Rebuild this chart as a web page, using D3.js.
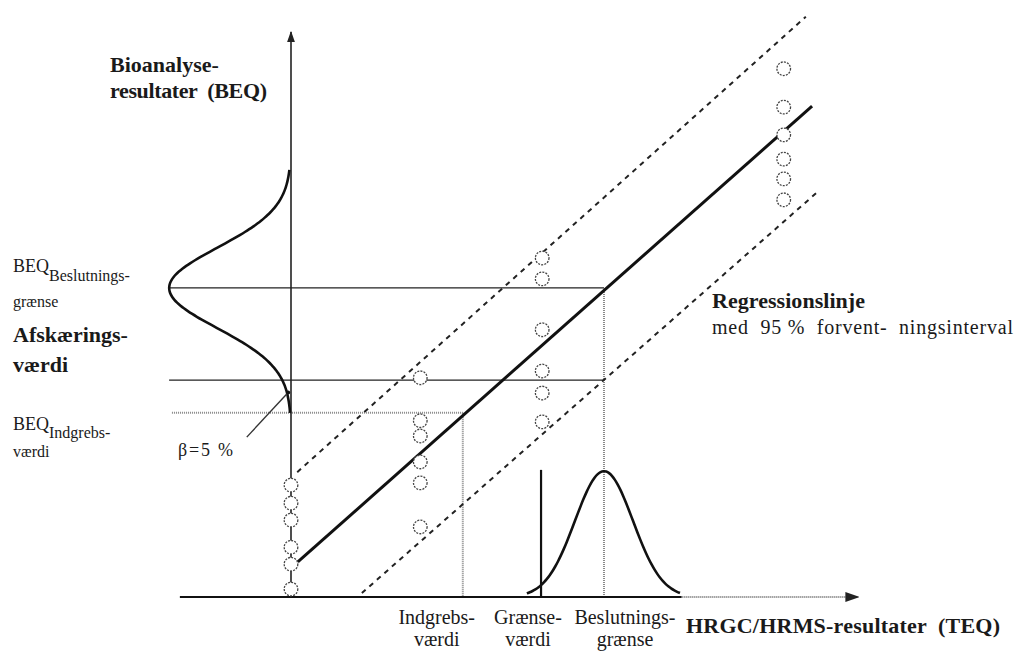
<!DOCTYPE html>
<html>
<head>
<meta charset="utf-8">
<script src="https://cdn.jsdelivr.net/npm/d3@7/dist/d3.min.js"></script>
<style>
body{margin:0;background:#fff;}
svg{display:block;font-family:"Liberation Serif","Times New Roman",serif;fill:#1a1a1a;}
text{white-space:pre;}
</style>
</head>
<body>
<svg id="chart" width="1015" height="655"></svg>
<script>
// values, in TEQ (x) and BEQ (y) units
var circleCols = [0, 2.28, 4.43, 8.69];
var circleVals = [
	[1.98, 1.66, 1.36, 0.88, 0.58, 0.14],
	[3.88, 3.12, 2.85, 2.39, 2.02, 1.24],
	[6.00, 5.63, 4.73, 4.00, 3.61, 3.10],
	[9.35, 8.67, 8.18, 7.75, 7.40, 7.03]
];
var regLine = [[0.12, 0.62], [9.19, 8.69]];
var upperBand = [[0.11, 2.21], [9.08, 10.27]];
var lowerBand = [[1.25, 0.07], [9.31, 7.19]];

// TEQ: indgrebsværdi, grænseværdi, beslutningsgrænse
var teqLevels = [3.03, 4.41, 5.52];
var teqLabels = [["Indgrebs-", "værdi"], ["Grænse-", "værdi"], ["Beslutnings-", "grænse"]];
var teqLabelX = [2.57, 4.18, 5.89];
var limitTop = 2.25;

// BEQ: indgreb, afskæring, beslutning
var beqLevels = [3.26, 3.84, 5.47];

// normal curves: [mean, sd, peak, from, to]
var beqCurve = [5.47, 0.71, 2.15, 3.26, 7.56];
var teqCurve = [5.52, 0.51, 2.23, 4.16, 6.89];
var betaPointer = [[-0.78, 2.83], [-0.05, 3.62]];

var svg = d3.select("#chart");
var x = d3.scaleLinear().domain([0, 10]).range([291, 858]);
var y = d3.scaleLinear().domain([0, 10]).range([597, 32]);

var defs = svg.append("defs");
defs.append("marker").attr("id", "arrow").attr("viewBox", "0 0 10 10")
	.attr("refX", 9).attr("refY", 5).attr("markerWidth", 7).attr("markerHeight", 7)
	.attr("orient", "auto").append("path").attr("d", "M0,1.5L10,5L0,8.5Z").attr("fill", "#222");

function seg(g, p, stroke, width, dash){
	return g.append("line")
		.attr("x1", x(p[0][0])).attr("y1", y(p[0][1]))
		.attr("x2", x(p[1][0])).attr("y2", y(p[1][1]))
		.attr("stroke", stroke).attr("stroke-width", width)
		.attr("stroke-dasharray", dash || null).attr("fill", "none");
}

var lines = svg.append("g");

// level lines from the BEQ curve to the regression line
seg(lines, [[-2.15, beqLevels[2]], [teqLevels[2], beqLevels[2]]], "#222", 1.2);
seg(lines, [[-2.15, beqLevels[1]], [teqLevels[2], beqLevels[1]]], "#222", 1.2);
seg(lines, [[-2.1, beqLevels[0]], [teqLevels[0], beqLevels[0]]], "#888", 2, "1,1");
seg(lines, [[teqLevels[0], beqLevels[0]], [teqLevels[0], 0]], "#888", 2, "1,1");
seg(lines, [[teqLevels[2], beqLevels[2]], [teqLevels[2], 0]], "#888", 2, "1,1");
seg(lines, [[teqLevels[1], limitTop], [teqLevels[1], 0]], "#111", 2.2);

// axes
seg(lines, [[0, 0], [0, 10]], "#222", 1.6).attr("marker-end", "url(#arrow)");
seg(lines, [[-1.96, 0], [teqCurve[4], 0]], "#111", 2.2);
seg(lines, [[teqCurve[4], 0], [10, 0]], "#777", 2, "1,1").attr("marker-end", "url(#arrow)");

// regression line and 95% band
seg(lines, regLine, "#111", 3);
seg(lines, upperBand, "#222", 2, "5,5");
seg(lines, lowerBand, "#222", 2, "5,5");

// normal curves
var beqPts = d3.range(beqCurve[4], beqCurve[3] - 0.001, -0.05).map(function(v){
	var d = (v - beqCurve[0]) / beqCurve[1];
	return [-beqCurve[2] * Math.exp(-d * d / 2), v];
});
var teqPts = d3.range(teqCurve[3], teqCurve[4] + 0.001, 0.05).map(function(v){
	var d = (v - teqCurve[0]) / teqCurve[1];
	return [v, teqCurve[2] * Math.exp(-d * d / 2)];
});
var curve = d3.line().x(function(d){ return x(d[0]); }).y(function(d){ return y(d[1]); }).curve(d3.curveBasis);
lines.append("path").attr("d", curve(beqPts)).attr("fill", "none").attr("stroke", "#111").attr("stroke-width", 2.6);
lines.append("path").attr("d", curve(teqPts)).attr("fill", "none").attr("stroke", "#111").attr("stroke-width", 2.6);

// beta pointer
seg(lines, betaPointer, "#333", 1.4);
lines.append("circle").attr("cx", x(betaPointer[1][0])).attr("cy", y(betaPointer[1][1])).attr("r", 2).attr("fill", "#111");

// data points
var pts = [];
circleCols.forEach(function(cx, i){
	circleVals[i].forEach(function(v){ pts.push([cx, v]); });
});
svg.append("g").selectAll("circle").data(pts).enter().append("circle")
	.attr("cx", function(d){ return x(d[0]); })
	.attr("cy", function(d){ return y(d[1]); })
	.attr("r", 6.8).attr("fill", "#fff").attr("stroke", "#444")
	.attr("stroke-width", 1.3).attr("stroke-dasharray", "2,1.2");

// texts
var txt = svg.append("g");
function label(str, tx, ty, size, bold, len){
	var t = txt.append("text").attr("x", tx).attr("y", ty).attr("font-size", size)
		.attr("font-weight", bold ? "bold" : "normal").text(str);
	if(len){ t.attr("textLength", len).attr("lengthAdjust", "spacing"); }
	return t;
}

label("Bioanalyse-", 110, 72, 22, true);
label("resultater  (BEQ)", 110, 98, 22, true, 157);

var t1 = label("BEQ", 13, y(beqLevels[2]) - 16, 18, false);
t1.append("tspan").attr("dy", 9).attr("font-size", 16).text("Beslutnings-");
label("grænse", 13, y(beqLevels[2]) + 19, 16, false);

label("Afskærings-", 13, 342, 22, true);
label("værdi", 13, 372, 22, true);

var t2 = label("BEQ", 13, y(beqLevels[0]) + 17, 18, false);
t2.append("tspan").attr("dy", 8).attr("font-size", 16).text("Indgrebs-");
label("værdi", 13, y(beqLevels[0]) + 44, 16, false);

label("β=5 %", 178, 456, 18, false, 55);

label("Regressionslinje", 712, 308, 22, true, 153);
label("med  95 %  forvent-  ningsinterval", 712, 334, 20, false, 301);

teqLabels.forEach(function(l, i){
	label(l[0], x(teqLabelX[i]), 624, 20, false).attr("text-anchor", "middle");
	label(l[1], x(teqLabelX[i]), 646, 20, false).attr("text-anchor", "middle");
});

label("HRGC/HRMS-resultater  (TEQ)", 686, 633, 22, true, 314);
</script>
</body>
</html>
